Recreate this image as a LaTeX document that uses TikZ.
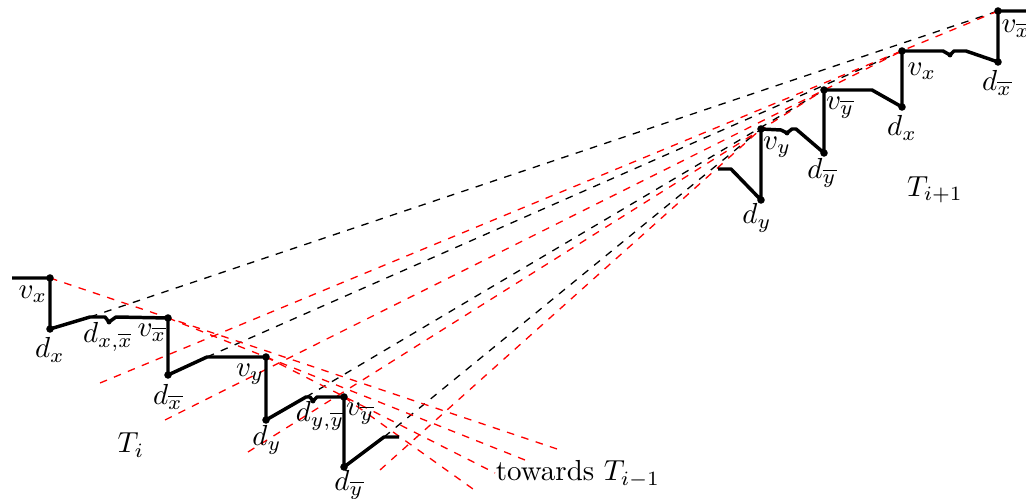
\documentclass[tikz,border=0pt]{standalone}
\tikzset{
  gad/.style={line width=1.2pt, line join=round},
  blk/.style={black, line width=0.45pt, dash pattern=on 2.6pt off 2.6pt},
  rd/.style={red, line width=0.45pt, dash pattern=on 2.6pt off 2.6pt},
  lbl/.style={inner sep=0pt, anchor=center},
}
\newcommand{\bdot}[1]{\fill (#1) circle (1.3pt);}
\newcommand{\sdot}[1]{\fill (#1) circle (0.85pt);}
\begin{document}
\begin{tikzpicture}[x=0.345pt,y=-0.345pt]
\useasboundingbox (0,0) rectangle (1026,499);
% ---- T_i points
\coordinate (s0) at (12,278);
\coordinate (vx) at (50,278);
\coordinate (dx) at (50,329);
\coordinate (ax) at (90,317);
\coordinate (p1) at (105,317);
\coordinate (dxxb) at (109,322);
\coordinate (p2) at (116,317);
\coordinate (vxb) at (168,318);
\coordinate (dxb) at (168,375);
\coordinate (axb) at (207,357);
\coordinate (vy) at (266,357);
\coordinate (dy) at (266,420);
\coordinate (ay) at (306,397);
\coordinate (p3) at (310,397);
\coordinate (dyyb) at (313,401);
\coordinate (p4) at (317,397);
\coordinate (vyb) at (344,397);
\coordinate (dyb) at (344,467);
\coordinate (ayb) at (384,437);
\coordinate (e0) at (399,437);
% ---- T_{i+1} points
\coordinate (S0) at (718,169);
\coordinate (S1) at (731,169);
\coordinate (Dy) at (761,200);
\coordinate (Vy) at (761,129);
\coordinate (P1) at (781,130);
\coordinate (Dyyb) at (787,133);
\coordinate (P2) at (792,129);
\coordinate (P3) at (796,129);
\coordinate (Dyb) at (824,153);
\coordinate (Vyb) at (824,90);
\coordinate (P4) at (872,90);
\coordinate (Dx) at (902,107);
\coordinate (Vx) at (902,51);
\coordinate (P5) at (943,51);
\coordinate (Dxxb) at (950,55);
\coordinate (P6) at (954,51);
\coordinate (P7) at (966,51);
\coordinate (Dxb) at (998,62);
\coordinate (Vxb) at (998,11);
\coordinate (E0) at (1030,11);
% free ends of dashed lines
\coordinate (r1) at (100,383);
\coordinate (r2) at (165,420);
\coordinate (r3) at (248,452);
\coordinate (r4) at (380,470);
\coordinate (b1) at (563,451);
\coordinate (b2) at (525,460);
\coordinate (b3) at (495,473);
\coordinate (b4) at (473,489);
% ---- dashed lines
\draw[blk] (ax) -- (Vxb);
\draw[blk] (axb) -- (Vx);
\draw[blk] (ay) -- (Vyb);
\draw[blk] (ayb) -- (Vy);
\draw[rd] (r1) -- (Vxb);
\draw[rd] (r2) -- (Vx);
\draw[rd] (r3) -- (Vyb);
\draw[rd] (r4) -- (Vy);
\draw[rd] (vx) -- (b1);
\draw[rd] (vxb) -- (b2);
\draw[rd] (vy) -- (b3);
\draw[rd] (vyb) -- (b4);
% ---- gadget paths
\draw[gad] (s0) -- (vx) -- (dx) -- (ax) -- (p1) -- (dxxb) -- (p2) -- (vxb) -- (dxb) -- (axb) -- (vy) -- (dy) -- (ay) -- (p3) -- (dyyb) -- (p4) -- (vyb) -- (dyb) -- (ayb) -- (e0);
\draw[gad] (S0) -- (S1) -- (Dy) -- (Vy) -- (P1) -- (Dyyb) -- (P2) -- (P3) -- (Dyb) -- (Vyb) -- (P4) -- (Dx) -- (Vx) -- (P5) -- (Dxxb) -- (P6) -- (P7) -- (Dxb) -- (Vxb) -- (E0);
% ---- dots
\bdot{vx}\bdot{dx}\sdot{dxxb}\bdot{vxb}\bdot{dxb}\bdot{vy}\bdot{dy}\sdot{dyyb}\bdot{vyb}\bdot{dyb}
\bdot{Dy}\bdot{Vy}\sdot{Dyyb}\bdot{Dyb}\bdot{Vyb}\bdot{Dx}\bdot{Vx}\sdot{Dxxb}\bdot{Dxb}\bdot{Vxb}
% ---- labels T_i
\node[lbl] (lvx) at (33,294) {$v_x$};
\node[lbl] (ldx) at (50,350) {$d_x$};
\node[lbl] (ldxxb) at (108,337) {$d_{x,\overline{x}}$};
\node[lbl] (lvxb) at (152,333) {$v_{\overline{x}}$};
\node[lbl] (ldxb) at (168,397) {$d_{\overline{x}}$};
\node[lbl] (lvy) at (250,374) {$v_y$};
\node[lbl] (ldy) at (267,440) {$d_y$};
\node[lbl] (ldyyb) at (320,416) {$d_{y,\overline{y}}$};
\node[lbl] (lvyb) at (360,414) {$v_{\overline{y}}$};
\node[lbl] (ldyb) at (349,485) {$d_{\overline{y}}$};
\node[lbl] (lTi) at (131,445) {$T_i$};
\node[lbl] (ltow) at (578,474) {towards $T_{i-1}$};
% ---- labels T_{i+1}
\node[lbl] (lVy) at (777,147) {$v_y$};
\node[lbl] (lDy) at (757,218) {$d_y$};
\node[lbl] (lDyb) at (822,173) {$d_{\overline{y}}$};
\node[lbl] (lVyb) at (840,108) {$v_{\overline{y}}$};
\node[lbl] (lDx) at (902,128) {$d_x$};
\node[lbl] (lVx) at (922,71) {$v_x$};
\node[lbl] (lDxb) at (997,83) {$d_{\overline{x}}$};
\node[lbl] (lVxb) at (1016,29) {$v_{\overline{x}}$};
\node[lbl] (lTi1) at (935,190) {$T_{i+1}$};
\end{tikzpicture}
\end{document}
